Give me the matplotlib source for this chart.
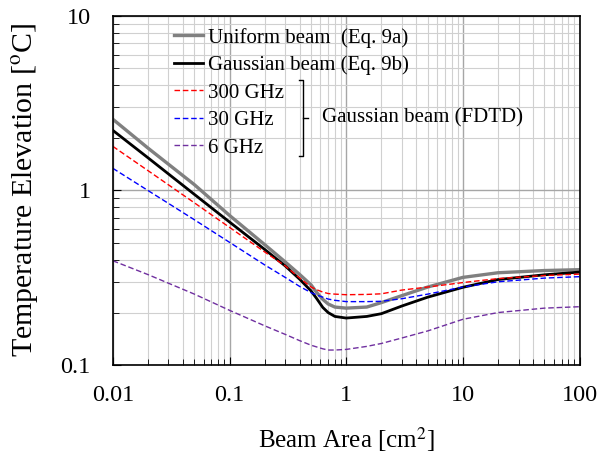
import matplotlib
matplotlib.use('Agg')
from matplotlib import pyplot as plt
from matplotlib.ticker import FixedLocator, FixedFormatter, NullFormatter

# beam area [cm^2]
area = [0.01, 0.02, 0.05, 0.1, 0.2, 0.3, 0.4, 0.5, 0.56, 0.63, 0.7, 0.8, 1, 1.5, 2, 3, 5, 10, 20, 50, 100]

uniform = [2.56, 1.75, 1.08, 0.72, 0.49, 0.39, 0.33, 0.288, 0.26, 0.238, 0.224, 0.215, 0.212, 0.215,
           0.228, 0.25, 0.28, 0.318, 0.338, 0.348, 0.352]
gaussian = [2.21, 1.54, 0.95, 0.66, 0.46, 0.37, 0.31, 0.266, 0.24, 0.214, 0.2, 0.19, 0.186, 0.19,
            0.197, 0.218, 0.245, 0.279, 0.309, 0.329, 0.341]
f300 = [1.79, 1.30, 0.85, 0.615, 0.445, 0.37, 0.315, 0.28, 0.27, 0.262, 0.257, 0.255, 0.253, 0.254,
        0.256, 0.269, 0.28, 0.297, 0.313, 0.326, 0.332]
f30 = [1.34, 1.00, 0.68, 0.505, 0.375, 0.318, 0.282, 0.26, 0.252, 0.245, 0.239, 0.235, 0.231, 0.231,
       0.232, 0.24, 0.255, 0.28, 0.30, 0.315, 0.321]
f6 = [0.396, 0.33, 0.255, 0.206, 0.168, 0.15, 0.138, 0.13, 0.127, 0.124, 0.122, 0.122, 0.123, 0.128,
      0.133, 0.143, 0.157, 0.183, 0.2, 0.212, 0.216]

xticks = [0.01, 0.1, 1, 10, 100]
xticklabels = ['0.01', '0.1', '1', '10', '100']
yticks = [0.1, 1, 10]
yticklabels = ['0.1', '1', '10']

plt.rcParams['font.family'] = ['Liberation Serif', 'DejaVu Serif']
plt.rcParams['mathtext.fontset'] = 'stix'

fig = plt.figure(figsize=(6, 4.53), dpi=100)
ax = fig.add_axes([0.188, 0.194, 0.778, 0.771])

ax.plot(area, uniform, color='#808080', lw=2.4, label='Uniform beam  (Eq. 9a)')
ax.plot(area, gaussian, color='black', lw=2.0, label='Gaussian beam (Eq. 9b)')
ax.plot(area, f300, color='#ff0000', lw=1.0, ls=(0, (4, 2)), label='300 GHz')
ax.plot(area, f30, color='#0000ff', lw=1.0, ls=(0, (4, 2)), label='30 GHz')
ax.plot(area, f6, color='#7030a0', lw=1.0, ls=(0, (4, 2)), label='6 GHz')

ax.set_xscale('log')
ax.set_yscale('log')
ax.set_xlim(0.01, 100)
ax.set_ylim(0.1, 10)
ax.xaxis.set_major_locator(FixedLocator(xticks))
ax.xaxis.set_major_formatter(FixedFormatter(xticklabels))
ax.yaxis.set_major_locator(FixedLocator(yticks))
ax.yaxis.set_major_formatter(FixedFormatter(yticklabels))
ax.xaxis.set_minor_formatter(NullFormatter())
ax.yaxis.set_minor_formatter(NullFormatter())

ax.grid(True, which='major', color='#a6a6a6', lw=1.0)
ax.grid(True, which='minor', color='#d0d0d0', lw=0.8)
ax.set_axisbelow(True)
ax.tick_params(which='both', direction='in', labelsize=17.5, top=False, right=False)
ax.tick_params(which='major', length=6)
ax.tick_params(which='minor', length=4)
ax.tick_params(axis='x', which='major', pad=14)
ax.tick_params(axis='y', which='major', pad=16)
for s in ax.spines.values():
    s.set_linewidth(1.2)

ax.set_xlabel('Beam Area [cm$^2$]', fontsize=18, labelpad=14)
ax.set_ylabel('Temperature Elevation [$^\\mathrm{o}$C]', fontsize=21.5, labelpad=14)

ax.legend(loc='upper left', bbox_to_anchor=(0.113, 0.99), frameon=False, fontsize=15,
          handlelength=1.4, handletextpad=0.25, labelspacing=0.38, borderaxespad=0)

# bracket for the FDTD group
tr = ax.transAxes
ax.plot([0.399, 0.408, 0.408, 0.399], [0.816, 0.816, 0.60, 0.60], color='black', lw=1.0,
        transform=tr, clip_on=False)
ax.plot([0.408, 0.418], [0.707, 0.707], color='black', lw=1.0, transform=tr, clip_on=False)
ax.text(0.449, 0.707, 'Gaussian beam (FDTD)', transform=tr, fontsize=15, va='center', ha='left')

fig.savefig('out.png', dpi=100)
